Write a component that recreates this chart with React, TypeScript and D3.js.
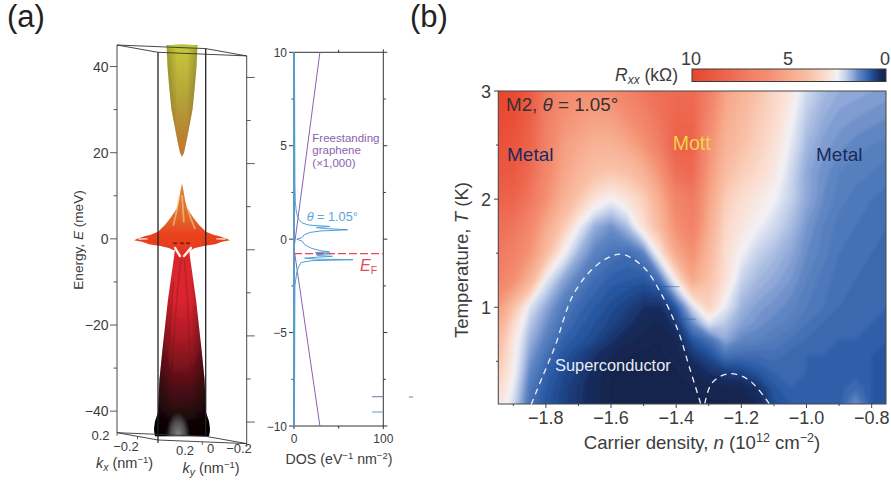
import React from 'react'
import * as d3 from 'd3'

// panel (b): resistance map, kOhm
const carrierDensity = [-1.95, -1.9, -1.85, -1.8, -1.75, -1.7, -1.65, -1.6, -1.55, -1.5, -1.45, -1.4, -1.35, -1.3, -1.25, -1.2, -1.15, -1.1, -1.05, -1.0, -0.95, -0.9, -0.85, -0.8, -0.75]
const temperature = [3.0, 2.75, 2.5, 2.25, 2.0, 1.75, 1.5, 1.25, 1.0, 0.85, 0.7, 0.55, 0.4, 0.25, 0.1]
const rxxRows = [
  [10, 9.7, 8.8, 7.2, 6.4, 6.1, 6, 6.2, 6.8, 7.4, 7.8, 8, 8, 7.0, 5.2, 4.6, 3.9, 3.3, 2.8, 2.2, 1.9, 1.75, 1.7, 1.65, 1.6],
  [9.7, 9.4, 8.6, 7, 6, 5.6, 5.3, 5.4, 6, 6.7, 7.5, 8.2, 8.2, 6.5, 4.9, 4.3, 3.7, 3.2, 2.6, 2.0, 1.75, 1.6, 1.55, 1.5, 1.45],
  [9.4, 9.1, 8.3, 6.8, 5.5, 5, 4.6, 4.6, 5, 5.8, 7, 8.4, 8.4, 6, 4.6, 4, 3.5, 3, 2.4, 1.85, 1.6, 1.5, 1.4, 1.35, 1.3],
  [9, 8.9, 8, 6.5, 5.2, 4.5, 4, 3.8, 4, 4.6, 5.8, 7.8, 8, 5.6, 4.2, 3.6, 3.2, 2.8, 2.2, 1.7, 1.5, 1.35, 1.3, 1.25, 1.2],
  [8.4, 8.3, 7.4, 6, 4.7, 3.8, 2.9, 2.5, 2.9, 3.5, 4.8, 6.6, 7.2, 5.2, 3.6, 3.1, 2.8, 2.5, 2.1, 1.7, 1.45, 1.3, 1.2, 1.15, 1.1],
  [7.8, 7.5, 6.5, 5, 3.8, 2.5, 1.75, 1.5, 1.9, 3, 4.3, 6, 6.8, 4.8, 3.3, 2.85, 2.5, 2.2, 1.9, 1.55, 1.35, 1.2, 1.15, 1.1, 1.05],
  [7.4, 6.8, 5.8, 4.2, 2.6, 1.8, 1.35, 1.15, 1.05, 1.3, 2.8, 5, 6, 4.4, 3.1, 2.5, 2.1, 1.9, 1.7, 1.45, 1.3, 1.15, 1.1, 1.05, 1.0],
  [6.8, 6, 4.6, 2.4, 1.7, 1.3, 1.05, 0.9, 0.85, 0.8, 1.1, 2.7, 5, 4, 3, 2.1, 1.85, 1.7, 1.55, 1.35, 1.2, 1.1, 1.05, 1, 0.95],
  [5.6, 4, 2.3, 1.7, 1.25, 1, 0.85, 0.7, 0.55, 0.35, 0.3, 0.8, 2.2, 3.4, 2.4, 1.8, 1.6, 1.5, 1.4, 1.25, 1.15, 1.05, 1, 0.98, 0.95],
  [5, 3.2, 2, 1.5, 1.1, 0.9, 0.75, 0.6, 0.4, 0.2, 0.12, 0.45, 1.4, 2.3, 2.0, 1.65, 1.5, 1.4, 1.3, 1.15, 1.05, 1, 1, 0.95, 0.9],
  [4.4, 2.8, 1.8, 1.3, 0.95, 0.8, 0.65, 0.4, 0.2, 0.08, 0.05, 0.15, 0.8, 1.1, 1.7, 1.4, 1.35, 1.25, 1.15, 1.05, 1, 0.95, 0.95, 0.9, 0.85],
  [4, 2.7, 1.6, 1.1, 0.8, 0.6, 0.35, 0.15, 0.05, 0.03, 0.03, 0.1, 0.4, 0.7, 1.1, 1.05, 1.05, 1.1, 1.0, 0.95, 0.95, 0.9, 0.9, 0.85, 0.85],
  [3.6, 2.6, 1.4, 0.95, 0.7, 0.5, 0.25, 0.05, 0.02, 0.02, 0.02, 0.03, 0.15, 0.35, 0.5, 0.6, 0.8, 0.95, 1.0, 0.95, 0.9, 0.9, 0.9, 0.85, 0.85],
  [3.2, 2.4, 1.2, 0.85, 0.62, 0.42, 0.2, 0.03, 0.02, 0.02, 0.02, 0.02, 0.05, 0.08, 0.1, 0.12, 0.35, 0.8, 0.95, 0.9, 0.9, 0.9, 1.05, 0.85, 0.85],
  [3.0, 2.2, 1.1, 0.8, 0.6, 0.4, 0.2, 0.02, 0.02, 0.02, 0.02, 0.02, 0.03, 0.03, 0.03, 0.05, 0.15, 0.7, 0.85, 0.85, 0.85, 0.85, 1.5, 0.85, 0.85],
]
const rxxStops = [0, 0.05, 0.3, 0.55, 0.85, 1.15, 1.4, 1.7, 2.1, 2.5, 3, 4, 5, 6, 7, 8, 10]
const rxxColors = ['#14244d', '#14244d', '#182c60', '#1d3f80', '#2a5aa5', '#4a74b8', '#5f86c2', '#8fa8d8', '#c5d2ea', '#f2f1f5', '#fbe0d5', '#f9c0a6', '#f7a98c', '#f48f72', '#f17f66', '#ee6a52', '#e8442c']
const rxxTicks = [10, 5, 0]
const densityTicks = [-1.8, -1.6, -1.4, -1.2, -1.0, -0.8]
const densityMinor = [-1.9, -1.7, -1.5, -1.3, -1.1, -0.9]
const tempTicks = [3, 2, 1]
const tempMinor = [2.5, 1.5, 0.5]

// dark horizontal measurement streaks
const streakT = [1.19, 0.89]
const streakFrom = [-1.57, -1.415]
const streakTo = [-1.39, -1.34]

// dashed superconducting domes
const domeMainN = [-1.845, -1.81, -1.773, -1.717, -1.655, -1.6, -1.565, -1.5, -1.447, -1.395, -1.36, -1.325]
const domeMainT = [0.1, 0.36, 0.63, 1.11, 1.36, 1.47, 1.49, 1.37, 1.13, 0.79, 0.45, 0.11]
const domeSmallN = [-1.312, -1.29, -1.24, -1.178, -1.115]
const domeSmallT = [0.11, 0.3, 0.385, 0.33, 0.11]

// panel (a): density of states
const dosEnergy = [10, 3, 2, 1.5, 1.2, 1.0, 0.85, 0.75, 0.68, 0.62, 0.57, 0.5, 0.44, 0.36, 0.22, 0.08, 0, -0.1, -0.3, -0.5, -0.62, -0.68, -0.72, -0.77, -0.83, -0.88, -0.92, -0.97, -1.02, -1.07, -1.1, -1.15, -1.25, -1.5, -1.8, -2.5, -10]
const dosValue = [0.5, 1, 1.5, 2.5, 4, 6, 10, 17, 40, 25, 35, 60, 30, 18, 11, 9, 3, 9, 12, 20, 30, 40, 24, 45, 25, 27, 43, 25, 12, 25, 66, 20, 8, 5, 3, 1, 0.5]
const grapheneEnergy = [10, -0.5, -10]
const grapheneDos = [29, 0, 29]
const dosTicks = [0, 100]
const energyDosTicks = [10, 5, 0, -5, -10]
const energyDosMinor = [7.5, 2.5, -2.5, -7.5]

// panel (a): band surface outlines, half width in nm^-1
const upperE = [45, 40, 35, 30, 25, 22, 20, 19]
const upperK = [0.129, 0.121, 0.106, 0.088, 0.054, 0.033, 0.017, 0]
const flatE = [12.9, 11.3, 9, 7.1, 4.8, 3.2, 1.65, 0.9, 0.65, 0.1, -0.3, -0.65, -1.25, -1.6, -2.1, -2.6]
const flatK = [0, 0.012, 0.025, 0.042, 0.098, 0.142, 0.2, 0.267, 0.306, 0.367, 0.4, 0.333, 0.275, 0.192, 0.108, 0.075]
const lowerE = [-2.6, -4.5, -14.2, -25.8, -32.7, -40.3, -42.4, -44.3, -45.8]
const lowerK = [0.06, 0.068, 0.117, 0.163, 0.188, 0.2, 0.225, 0.233, 0.225]
const surfaceStopE = [45, 32, 24, 19, 13, 5, 1, -1, -4.5, -14, -23.5, -32.7, -39.7, -43]
const surfaceStopC = ['#c9c93c', '#b5a038', '#b98232', '#c47a2e', '#d98a3c', '#e0682a', '#ea421e', '#e8401f', '#d9282c', '#dc2430', '#a81a24', '#5c0f18', '#2a0a10', '#0a0505']
const energyTicks = [40, 20, 0, -20, -40]
const energyMinor = [30, 10, -10, -30]
const bottomTickK = [0, -0.2, 0.2]

const W = 891
const H = 484
const FONT = '"Liberation Sans", Arial, sans-serif'
const GREY = '#3c3c3c'

// resistance map scales
const mapX = d3.scaleLinear().domain([-1.946, -0.756]).range([498.3, 886])
const mapY = d3.scaleLinear().domain([3, 0.105]).range([91, 404])
const rxxColor = d3.scaleLinear<string>().domain(rxxStops).range(rxxColors)
const rxxBar = d3.scaleLinear().domain([10, 0]).range([692, 886])

const nCols = carrierDensity.length
const nRows = temperature.length
const gridX = d3.scaleLinear().domain(carrierDensity.map((_, i) => i + 0.5)).range(carrierDensity.map((d) => mapX(d)))
const gridY = d3.scaleLinear().domain(temperature.map((_, i) => i + 0.5)).range(temperature.map((d) => mapY(d)))
const levels = d3.range(0.05, 10.01, 0.1)
const bands = d3.contours().size([nCols, nRows]).thresholds(levels)(rxxRows.flat())
const bandPath = d3.geoPath(d3.geoTransform({
  point(x, y) {
    this.stream.point(gridX(x), gridY(y))
  },
}))

const domeMain = d3.line<number>().curve(d3.curveCatmullRom).x((d) => mapX(d)).y((_, i) => mapY(domeMainT[i]))(domeMainN)
const domeSmall = d3.line<number>().curve(d3.curveCatmullRom).x((d) => mapX(d)).y((_, i) => mapY(domeSmallT[i]))(domeSmallN)

// DOS panel scales
const dosX = d3.scaleLinear().domain([0, 100]).range([294, 383.3])
const dosY = d3.scaleLinear().domain([10, -10]).range([52.3, 426])
const blueLine = d3.line<number>().x((d) => dosX(d)).y((_, i) => dosY(dosEnergy[i]))(dosValue)
const purpleLine = d3.line<number>().x((d) => dosX(d)).y((_, i) => dosY(grapheneEnergy[i]))(grapheneDos)

// 3D box, oblique projection on to the page
const energyY = d3.scaleLinear().domain([45, -45]).range([45, 432.7])
const project = (kx: number, ky: number, e: number): [number, number] => [
  181.85 - 102.5 * kx - 221.75 * ky,
  energyY(e) - 18.25 * (kx - 0.2) - 9 * (ky - 0.2),
]
const kScale = d3.scaleLinear().domain([-0.4, 0.4]).range([134, 230])
const surfaceArea = (e: number[], k: number[]) =>
  d3.area<number>().x0((d) => kScale(-d)).x1((d) => kScale(d)).y((_, i) => energyY(e[i]))(k)

const toPath = (pts: [number, number][]) => d3.line()(pts)
const boxThin = [
  [[0.2, 0.2, 45], [0.2, -0.2, 45]],
  [[0.2, 0.2, 45], [-0.2, 0.2, 45]],
  [[0.2, 0.2, -45], [0.2, -0.2, -45]],
  [[0.2, -0.2, -45], [-0.2, -0.2, -45]],
  [[0.2, -0.2, 45], [-0.2, -0.2, 45]],
  [[-0.2, 0.2, 45], [-0.2, -0.2, 45]],
  [[0.2, 0.2, 45], [0.2, 0.2, -45]],
  [[-0.2, -0.2, 45], [-0.2, -0.2, -45]],
  [[0.2, 0.2, -45], [-0.2, 0.2, -45]],
  [[-0.2, 0.2, -45], [-0.2, -0.2, -45]],
]
const boxThick = [
  [[-0.2, 0.2, 45], [-0.2, 0.2, -45]],
  [[0.2, -0.2, 45], [0.2, -0.2, -45]],
]
const edge = (seg: number[][]) => toPath(seg.map((p) => project(p[0], p[1], p[2])))

// surface creases: [k, E] pairs
const lightCreases = [
  [[-0.025, 10], [-0.045, 6.5], [-0.072, 3.2]],
  [[0.04, 7.8], [0.07, 5], [0.108, 2.4]],
  [[0.0, 10], [0.008, 7], [0.015, 4]],
]
const armSpots = [
  [[-0.36, -0.05], [-0.29, 0.0]],
  [[0.29, 0.0], [0.36, -0.05]],
]
const darkCreases = [
  [[-0.01, -5], [-0.05, -16], [-0.08, -30]],
  [[0.02, -5], [0.05, -16], [0.07, -30]],
  [[-0.07, -10], [-0.1, -20], [-0.13, -30]],
]
const slits = [
  [[-0.058, -2.1], [-0.017, -4.0]],
  [[0.075, -2.1], [0.017, -4.0]],
]
const speckK = [-0.058, 0, 0.05]
const speckE = [-1.03, -1.03, -1.03]
const crease = (pts: number[][]) =>
  d3.line<number[]>().curve(d3.curveCatmullRom).x((d) => kScale(d[0])).y((d) => energyY(d[1]))(pts)

export default function App() {
  const stopScale = d3.scaleLinear().domain([45, -45]).range([0, 1])
  const barStop = d3.scaleLinear().domain([10, 0]).range([0, 1])
  const mapLeft = mapX.range()[0]
  const mapTop = mapY.range()[0]
  const mapW = mapX.range()[1] - mapLeft
  const mapH = mapY.range()[1] - mapTop
  return (
    <svg width={W} height={H} viewBox={`0 0 ${W} ${H}`} fontFamily={FONT}
      style={{ position: 'absolute', left: 0, top: 0, display: 'block', background: '#fff' }}>
      <defs>
        <linearGradient id="surface" gradientUnits="userSpaceOnUse" x1="0" x2="0" y1={energyY(45)} y2={energyY(-45)}>
          {surfaceStopE.map((e, i) => <stop key={e} offset={stopScale(e)} stopColor={surfaceStopC[i]} />)}
        </linearGradient>
        <linearGradient id="sideShade" x1="0" x2="1" y1="0" y2="0">
          <stop offset="0" stopColor="#000" stopOpacity="0.55" />
          <stop offset="0.35" stopColor="#000" stopOpacity="0" />
          <stop offset="0.65" stopColor="#000" stopOpacity="0" />
          <stop offset="1" stopColor="#000" stopOpacity="0.55" />
        </linearGradient>
        <radialGradient id="baseGlow">
          <stop offset="0" stopColor="#8c8c8c" />
          <stop offset="0.6" stopColor="#6c6c6c" stopOpacity="0.7" />
          <stop offset="1" stopColor="#6c6c6c" stopOpacity="0" />
        </radialGradient>
        <linearGradient id="barFill" x1="0" x2="1" y1="0" y2="0">
          {rxxStops.slice().reverse().map((v) => <stop key={v} offset={barStop(v)} stopColor={rxxColor(v)} />)}
        </linearGradient>
        <clipPath id="mapClip"><rect x={mapLeft} y={mapTop} width={mapW} height={mapH} /></clipPath>
        <clipPath id="coneClip"><path d={surfaceArea(lowerE, lowerK) ?? ''} /></clipPath>
        <filter id="soft" x="-5%" y="-5%" width="110%" height="110%"><feGaussianBlur stdDeviation="1.8" /></filter>
        <filter id="soft1" x="-20%" y="-20%" width="140%" height="140%"><feGaussianBlur stdDeviation="0.6" /></filter>
      </defs>

      <text x={7} y={27} fontSize={31} fill="#222">(a)</text>
      <text x={410} y={27} fontSize={31} fill="#222">(b)</text>

      {/* 3D band structure */}
      <g filter="url(#soft1)">
        <path d={surfaceArea(upperE, upperK) ?? ''} fill="url(#surface)" />
        <path d={surfaceArea(upperE, upperK) ?? ''} fill="url(#sideShade)" opacity={0.4} />
        <ellipse cx={kScale(0)} cy={energyY(44.6)} rx={kScale(0.129) - kScale(0)} ry={2.5} fill="#bcc43a" />
        <path d={surfaceArea(lowerE, lowerK) ?? ''} fill="url(#surface)" />
        <path d={surfaceArea(lowerE, lowerK) ?? ''} fill="url(#sideShade)" />
        <g clipPath="url(#coneClip)">
          <ellipse cx={178} cy={436} rx={12} ry={24} fill="url(#baseGlow)" />
        </g>
        <g fill="none" strokeLinecap="round">
          {darkCreases.map((c, i) => <path key={i} d={crease(c) ?? ''} stroke="#5a0e10" strokeWidth={1.6} opacity={0.22} />)}
        </g>
        <path d={surfaceArea(flatE, flatK) ?? ''} fill="url(#surface)" />
        <g fill="none" strokeLinecap="round">
          {lightCreases.map((c, i) => <path key={i} d={crease(c) ?? ''} stroke="#f6cf9c" strokeWidth={1.8} opacity={0.6} />)}
          {armSpots.map((c, i) => <path key={i} d={crease(c) ?? ''} stroke="#f8e0d0" strokeWidth={1.4} />)}
          {slits.map((c, i) => <path key={i} d={crease(c) ?? ''} stroke="#fbeee6" strokeWidth={2.4} />)}
        </g>
        {speckK.map((k, i) => <ellipse key={k} cx={kScale(k)} cy={energyY(speckE[i])} rx={2.4} ry={1.1} fill="#8a1a14" />)}
      </g>
      <g fill="none" stroke="#333" strokeWidth={0.9}>
        {boxThin.map((s, i) => <path key={i} d={edge(s) ?? ''} />)}
      </g>
      <g fill="none" stroke="#222" strokeWidth={1.3}>
        {boxThick.map((s, i) => <path key={i} d={edge(s) ?? ''} />)}
      </g>
      <g stroke="#333" strokeWidth={0.8}>
        {bottomTickK.map((k) => {
          const [ax, ay] = project(k, 0.2, -45)
          const [bx, by] = project(-0.2, k, -45)
          return (
            <g key={k}>
              <line x1={ax} x2={ax} y1={ay} y2={ay + 3} />
              <line x1={bx} x2={bx} y1={by} y2={by + 3} />
            </g>
          )
        })}
        {energyTicks.map((e) => {
          const [lx, ly] = project(0.2, 0.2, e)
          const [rx, ry] = project(-0.2, -0.2, e)
          return (
            <g key={e}>
              <line x1={lx - 7} x2={lx} y1={ly} y2={ly} />
              <line x1={rx} x2={rx + 8} y1={ry} y2={ry} />
            </g>
          )
        })}
        {energyMinor.map((e) => {
          const [lx, ly] = project(0.2, 0.2, e)
          const [rx, ry] = project(-0.2, -0.2, e)
          return (
            <g key={e}>
              <line x1={lx - 3.5} x2={lx} y1={ly} y2={ly} />
              <line x1={rx} x2={rx + 4} y1={ry} y2={ry} />
            </g>
          )
        })}
      </g>
      <g fontSize={14} fill={GREY} textAnchor="end">
        {energyTicks.map((e) => <text key={e} x={108.5} y={energyY(e) + 5}>{e < 0 ? `\u2212${-e}` : e}</text>)}
      </g>
      <text transform={`translate(83,240) rotate(-90)`} fontSize={13.6} fill={GREY} textAnchor="middle">
        Energy, <tspan fontStyle="italic">E</tspan> (meV)
      </text>
      <g fontSize={13} fill={GREY} textAnchor="middle">
        <text x={100.5} y={440}>0.2</text>
        <text x={126} y={451}>{'\u22120.2'}</text>
        <text x={185} y={455}>0.2</text>
        <text x={210.7} y={453}>0</text>
        <text x={239} y={453}>{'\u22120.2'}</text>
      </g>
      <text x={124.5} y={468} fontSize={14.5} fill={GREY} textAnchor="middle">
        <tspan fontStyle="italic">k</tspan><tspan fontStyle="italic" fontSize={10.5} dy={3}>x</tspan><tspan dy={-3}> (nm</tspan><tspan fontSize={9.5} dy={-5}>{'\u22121'}</tspan><tspan dy={5}>)</tspan>
      </text>
      <text x={211} y={473} fontSize={14.5} fill={GREY} textAnchor="middle">
        <tspan fontStyle="italic">k</tspan><tspan fontStyle="italic" fontSize={10.5} dy={3}>y</tspan><tspan dy={-3}> (nm</tspan><tspan fontSize={9.5} dy={-5}>{'\u22121'}</tspan><tspan dy={5}>)</tspan>
      </text>

      {/* DOS */}
      <g stroke="#333" strokeWidth={1} fill="none">
        <line x1={dosX(0)} x2={dosX(100)} y1={dosY(10)} y2={dosY(10)} />
        <line x1={dosX(0)} x2={dosX(100)} y1={dosY(-10)} y2={dosY(-10)} />
        <line x1={dosX(100)} x2={dosX(100)} y1={dosY(10)} y2={dosY(-10)} />
        {energyDosTicks.map((e) => (
          <g key={e}>
            <line x1={dosX(0) - 5} x2={dosX(0)} y1={dosY(e)} y2={dosY(e)} />
            <line x1={dosX(100)} x2={dosX(100) + 4} y1={dosY(e)} y2={dosY(e)} />
          </g>
        ))}
        {energyDosMinor.map((e) => (
          <g key={e}>
            <line x1={dosX(0) - 2.5} x2={dosX(0)} y1={dosY(e)} y2={dosY(e)} />
            <line x1={dosX(100)} x2={dosX(100) + 2.5} y1={dosY(e)} y2={dosY(e)} />
          </g>
        ))}
        <line x1={dosX(50)} x2={dosX(50)} y1={dosY(10) - 2.5} y2={dosY(10)} />
        <line x1={dosX(50)} x2={dosX(50)} y1={dosY(-10)} y2={dosY(-10) + 2.5} />
        <line x1={dosX(0)} x2={dosX(0)} y1={dosY(-10)} y2={dosY(-10) + 3} />
        <line x1={dosX(100)} x2={dosX(100)} y1={dosY(-10)} y2={dosY(-10) + 3} />
        <line x1={dosX(100)} x2={dosX(100)} y1={dosY(10) - 3} y2={dosY(10)} />
      </g>
      <path d={purpleLine ?? ''} fill="none" stroke="#8a62ae" strokeWidth={1} />
      <line x1={dosX(0)} x2={dosX(0)} y1={dosY(10)} y2={dosY(-10)} stroke="#5a9cc8" strokeWidth={2} />
      <path d={blueLine ?? ''} fill="none" stroke="#4d9fd8" strokeWidth={1} />
      <line x1={dosX(0)} x2={dosX(100)} y1={dosY(-0.78)} y2={dosY(-0.78)} stroke="#e24a5c" strokeWidth={1.2} strokeDasharray="8 3" />
      <line x1={372} x2={dosX(100)} y1={396.7} y2={396.7} stroke="#8a62ae" strokeWidth={1} />
      <line x1={372} x2={dosX(100)} y1={412} y2={412} stroke="#4d9fd8" strokeWidth={1} />
      <line x1={409} x2={413} y1={397} y2={397} stroke="#777" strokeWidth={1} />
      <g fontSize={12} fill={GREY} textAnchor="end">
        {energyDosTicks.map((e) => <text key={e} x={287} y={dosY(e) + 4.5}>{e < 0 ? `\u2212${-e}` : e}</text>)}
      </g>
      <g fontSize={12} fill={GREY} textAnchor="middle">
        {dosTicks.map((v) => <text key={v} x={dosX(v)} y={443}>{v}</text>)}
      </g>
      <text x={339} y={464} fontSize={14.2} fill={GREY} textAnchor="middle">
        DOS (eV<tspan fontSize={9.5} dy={-5}>{'\u22121'}</tspan><tspan dy={5}> nm</tspan><tspan fontSize={9.5} dy={-5}>{'\u22122'}</tspan><tspan dy={5}>)</tspan>
      </text>
      <g fontSize={11.5} fill="#8a62ae">
        <text x={312.3} y={141.7}>Freestanding</text>
        <text x={312.3} y={154}>graphene</text>
        <text x={312.3} y={167}>({'\u00d7'}1,000)</text>
      </g>
      <text x={306.7} y={220.7} fontSize={12.7} fill="#5aa4d8"><tspan fontStyle="italic">{'\u03b8'}</tspan> = 1.05{'\u00b0'}</text>
      <text x={360} y={271} fontSize={16} fill="#e24a5c"><tspan fontStyle="italic">E</tspan><tspan fontSize={10.5} dy={3}>F</tspan></text>

      {/* resistance map */}
      <g clipPath="url(#mapClip)">
        <rect x={mapLeft} y={mapTop} width={mapW} height={mapH} fill={rxxColor(0)} />
        <g filter="url(#soft)">
          {bands.map((b) => {
            const c = rxxColor(b.value + 0.05)
            return <path key={b.value} d={bandPath(b) ?? ''} fill={c} stroke={c} strokeWidth={0.4} />
          })}
        </g>
        {streakT.map((t, i) => (
          <line key={t} x1={mapX(streakFrom[i])} x2={mapX(streakTo[i])} y1={mapY(t)} y2={mapY(t)} stroke="#1d4a90" strokeWidth={1.2} opacity={0.4} />
        ))}
      </g>
      <rect x={mapLeft} y={mapTop} width={mapW} height={mapH} fill="none" stroke="#4a4a4a" strokeWidth={1.2} opacity={0.85} />
      <path d={domeMain ?? ''} fill="none" stroke="#f2f2f2" strokeWidth={1.3} strokeDasharray="6 5" />
      <path d={domeSmall ?? ''} fill="none" stroke="#f2f2f2" strokeWidth={1.3} strokeDasharray="6 5" />
      <g stroke="#444" strokeWidth={1}>
        {densityTicks.map((v) => <line key={v} x1={mapX(v)} x2={mapX(v)} y1={404} y2={408} />)}
        {densityMinor.map((v) => <line key={v} x1={mapX(v)} x2={mapX(v)} y1={404} y2={406} />)}
        {tempTicks.map((v) => <line key={v} x1={494} x2={498.3} y1={mapY(v)} y2={mapY(v)} />)}
        {tempMinor.map((v) => <line key={v} x1={496} x2={498.3} y1={mapY(v)} y2={mapY(v)} />)}
      </g>
      <g fontSize={18} fill={GREY} textAnchor="middle">
        {densityTicks.map((v) => <text key={v} x={mapX(v)} y={424}>{'\u2212' + Math.abs(v).toFixed(1)}</text>)}
      </g>
      <g fontSize={18} fill={GREY} textAnchor="middle">
        {tempTicks.map((v) => <text key={v} x={486} y={mapY(v) + 6.5}>{v}</text>)}
      </g>
      <text x={702} y={449} fontSize={18.6} fill={GREY} textAnchor="middle">
        Carrier density, <tspan fontStyle="italic">n</tspan> (10<tspan fontSize={12.5} dy={-7}>12</tspan><tspan dy={7}> cm</tspan><tspan fontSize={12.5} dy={-7}>{'\u22122'}</tspan><tspan dy={7}>)</tspan>
      </text>
      <text transform="translate(468,260) rotate(-90)" fontSize={18.6} fill={GREY} textAnchor="middle">
        Temperature, <tspan fontStyle="italic">T</tspan> (K)
      </text>
      <text x={506} y={110.7} fontSize={18.8} fill="#3a3030">M2, <tspan fontStyle="italic">{'\u03b8'}</tspan> = 1.05{'\u00b0'}</text>
      <text x={507} y={161} fontSize={19} fill="#1a2a5c">Metal</text>
      <text x={816} y={161} fontSize={19} fill="#1a2a5c">Metal</text>
      <text x={672.7} y={150} fontSize={19.5} fill="#f0d44a">Mott</text>
      <text x={555} y={371} fontSize={16.4} fill="#e8ecf4">Superconductor</text>

      {/* colour bar */}
      <rect x={692} y={69} width={194} height={12.5} fill="url(#barFill)" stroke="#3a3a3a" strokeWidth={1} />
      <g fontSize={18} fill={GREY} textAnchor="middle">
        {rxxTicks.map((v) => <text key={v} x={rxxBar(v) - 1} y={65}>{v}</text>)}
      </g>
      <text x={678} y={80.7} fontSize={17.5} fill={GREY} textAnchor="end">
        <tspan fontStyle="italic">R</tspan><tspan fontStyle="italic" fontSize={12} dy={3}>xx</tspan><tspan dy={-3}> (k{'\u03a9'})</tspan>
      </text>
    </svg>
  )
}
